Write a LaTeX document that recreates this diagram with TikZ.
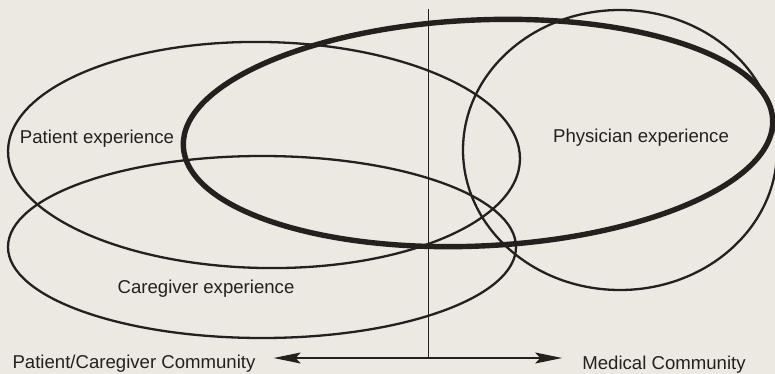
\documentclass[tikz,border=0pt]{standalone}
\usepackage{fontspec}
\setmainfont{Liberation Sans}
\usetikzlibrary{arrows.meta}
\definecolor{paper}{RGB}{236,233,226}
\definecolor{ink}{RGB}{36,32,30}
\tikzset{
  thinring/.style={draw=ink, line width=2.3pt},
  thickring/.style={draw=ink, line width=5.4pt},
  lbl/.style={text=ink, inner sep=2pt},
  commarrow/.style={draw=ink, line width=1.2pt, -{Stealth[length=27pt,width=11pt,inset=5pt]}}
}
\begin{document}
\begin{tikzpicture}[x=1pt,y=-1pt,font=\fontsize{18.6}{22}\selectfont]
\fill[paper] (0,0) rectangle (775,374);
\useasboundingbox (0,0) rectangle (775,374);
\draw[thinring, rotate around={-1:(264,155)}] (264,155) ellipse [x radius=256pt, y radius=113pt];
\draw[thinring] (262,247) ellipse [x radius=254pt, y radius=91pt];
\draw[thinring] (620,150) ellipse [x radius=157pt, y radius=140pt];
\draw[thickring, rotate around={2.6:(478,133)}] (478,133) ellipse [x radius=295pt, y radius=113pt];
\node[lbl] (patexp) at (97,139) {Patient experience};
\node[lbl] (physexp) at (641,138) {Physician experience};
\node[lbl] (careexp) at (206,289) {Caregiver experience};
\node[lbl] (pcc) at (134,364) {Patient/Caregiver Community};
\node[lbl] (medcom) at (664,365) {Medical Community};
\coordinate (axistop) at (428,9);
\coordinate (axisbot) at (428,358);
\draw[ink, line width=1pt] (axistop) -- (axisbot);
\draw[commarrow, shorten >=16pt] (axisbot) -- (axisbot -| pcc.east);
\draw[commarrow, shorten >=18pt] (axisbot) -- (axisbot -| medcom.west);
\end{tikzpicture}
\end{document}
